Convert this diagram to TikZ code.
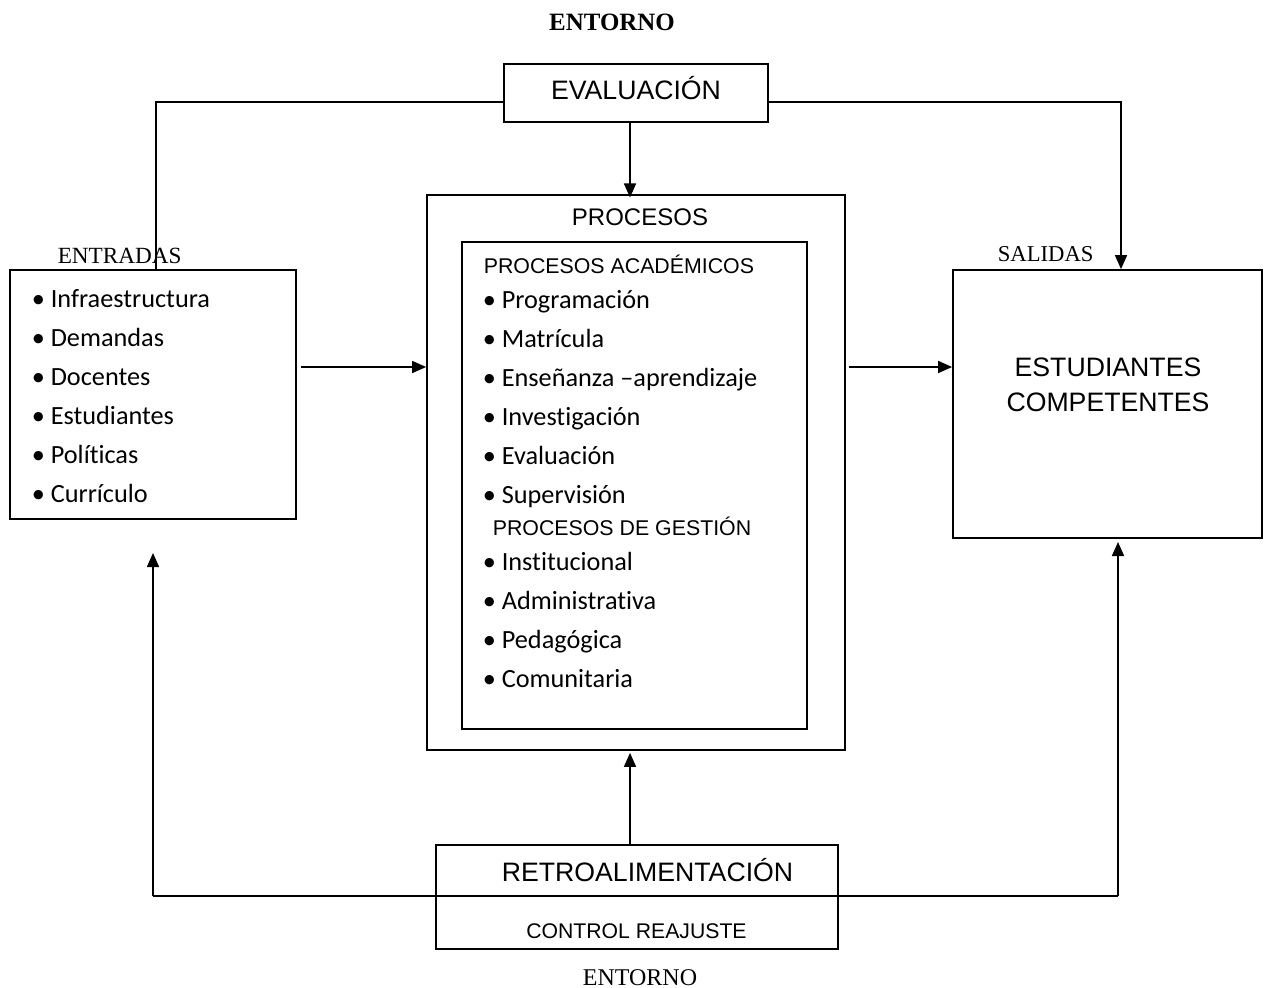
\documentclass[tikz,border=0pt]{standalone}
\usepackage{fontspec}
\setmainfont{Liberation Serif}
\newfontfamily\arialf{Liberation Sans}
\newfontfamily\calibf[Ligatures=NoCommon]{Carlito}
\usetikzlibrary{arrows.meta,fit}
\begin{document}
\begin{tikzpicture}[x=0.75pt,y=-0.75pt,line width=1.2pt,
  box/.style={draw,inner sep=0pt,line width=1.3pt},
  arr/.style={-{Triangle[length=10.5pt,width=9pt]}},
  txt/.style={anchor=base,inner sep=0pt},
  item/.style={anchor=base west,inner sep=0pt,font=\calibf\fontsize{19.7}{22}\selectfont},
  head/.style={anchor=base west,inner sep=0pt,font=\arialf\fontsize{16}{18}\selectfont}]
\useasboundingbox (0,0) rectangle (1264,988);

% titles
\node[txt,font=\bfseries\fontsize{18.7}{20}\selectfont] (top) at (612,31) {ENTORNO};
\node[txt,font=\fontsize{18}{20}\selectfont] (bot) at (640,985) {ENTORNO};

% boxes
\node[box,fit={(504,64)(768,122)}] (eval) {};
\node[txt,font=\arialf\fontsize{20}{22}\selectfont] (evalt) at (636,100) {EVALUACIÓN};

\node[box,fit={(10,270)(296,519)}] (ent) {};
\node[txt,font=\fontsize{17.4}{20}\selectfont,anchor=base west] (entl) at (57,263) {ENTRADAS};

\node[box,fit={(427,195)(845,750)}] (proc) {};
\node[box,fit={(462,242)(807,729)}] (inner) {};
\node[txt,font=\arialf\fontsize{18}{20}\selectfont] (proct) at (640,226) {PROCESOS};

\node[box,fit={(953,270)(1262,538)}] (sal) {};
\node[txt,font=\fontsize{17}{20}\selectfont,anchor=base west] (sall) at (997,262) {SALIDAS};
\node[txt,font=\arialf\fontsize{20}{22}\selectfont] (salt1) at (1108,376) {ESTUDIANTES};
\node[txt,font=\arialf\fontsize{20}{22}\selectfont] (salt2) at (1108,411) {COMPETENTES};

\node[box,fit={(436,845)(838,949)}] (retro) {};
\node[txt,font=\arialf\fontsize{20}{22}\selectfont] (retrot) at (647.5,881) {RETROALIMENTACIÓN};
\node[txt,font=\arialf\fontsize{15.9}{18}\selectfont] (ctrl) at (636.5,938) {CONTROL REAJUSTE};

% left list
\node[item] (e1) at (31,307) {• Infraestructura};
\node[item] (e2) at (31,346) {• Demandas};
\node[item] (e3) at (31,385) {• Docentes};
\node[item] (e4) at (31,424) {• Estudiantes};
\node[item] (e5) at (31,463) {• Políticas};
\node[item] (e6) at (31,502) {• Currículo};

% middle list
\node[head] (pa) at (483,273) {PROCESOS ACADÉMICOS};
\node[item] (p1) at (482,308) {• Programación};
\node[item] (p2) at (482,347) {• Matrícula};
\node[item] (p3) at (482,386) {• Enseñanza –aprendizaje};
\node[item] (p4) at (482,425) {• Investigación};
\node[item] (p5) at (482,464) {• Evaluación};
\node[item] (p6) at (482,503) {• Supervisión};
\node[head] (pg) at (492,535) {PROCESOS DE GESTIÓN};
\node[item] (g1) at (482,570) {• Institucional};
\node[item] (g2) at (482,609) {• Administrativa};
\node[item] (g3) at (482,648) {• Pedagógica};
\node[item] (g4) at (482,687) {• Comunitaria};

% helper coordinates
\coordinate (xl) at (156,102);
\coordinate (xr) at (1121,102);
\coordinate (bl) at (153,896);
\coordinate (br) at (1118,896);
\coordinate (tl) at (153,553);
\coordinate (tr) at (1118,542);
\coordinate (mx) at (630,0);
\coordinate (hy) at (0,367);

% connectors
\draw (eval.west |- xl) -- (xl) -- (ent.north -| xl);
\draw[arr] (eval.east |- xr) -- (xr) -- (sal.north -| xr);
\draw[arr] (eval.south -| mx) -- ([yshift=-2.5pt]proc.north -| mx);
\draw[arr] ([xshift=3pt]ent.east |- hy) -- (proc.west |- hy);
\draw[arr] ([xshift=2pt]proc.east |- hy) -- (sal.west |- hy);
\draw[arr] (retro.north -| mx) -- ([yshift=-1.5pt]proc.south -| mx);
\draw (bl) -- (br);
\draw[arr] (bl) -- (tl);
\draw[arr] (br) -- (tr);
\end{tikzpicture}
\end{document}
